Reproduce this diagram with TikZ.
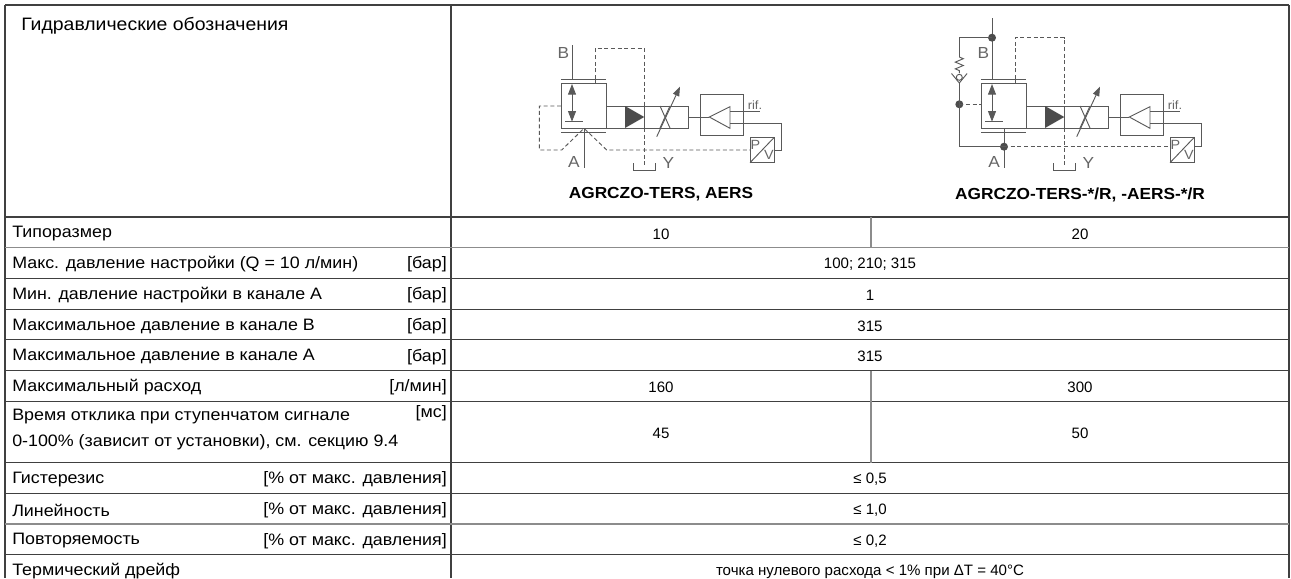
\documentclass[tikz,border=0pt]{standalone}
\usepackage{fontspec}
\setmainfont[FakeStretch=1.08]{Liberation Sans}
\newfontfamily\valfont{Liberation Sans}
\usetikzlibrary{arrows.meta}

\begin{document}
\begin{tikzpicture}[x=0.75pt,y=-0.75pt,
    grid/.style={draw=black!75, line width=0.9pt},
    lightgrid/.style={draw=black!45, line width=0.9pt},
    hyd/.style={draw=black!65, line width=0.7pt},
    pilot/.style={hyd, dash pattern=on 3pt off 2pt},
    lbl/.style={font=\fontsize{12.4}{14}\selectfont, inner sep=0pt, yshift=-1.1pt},
    val/.style={font=\valfont\fontsize{11.3}{13}\selectfont, inner sep=0pt, yshift=-1.1pt},
    port/.style={font=\fontsize{12}{12}\selectfont, text=black!60, inner sep=0pt},
    dot/.style={circle, fill=black!70, inner sep=0pt, minimum size=6pt}]
    \useasboundingbox (0,0) rectangle (1291,578);

    % Table grid
    \draw[grid, line width=1.6pt] (5,5) -- (1289,5);
    \draw[grid] (5,5) -- (5,578);
    \draw[grid] (451,5) -- (451,578);
    \draw[grid] (1289,5) -- (1289,578);
    \foreach \y in {217,278.4,309.1,339.8,370.5,401.2,462.6,493.3,554.7}
        \draw[grid] (5,\y) -- (1289,\y);
    \foreach \y in {247.7,524}
        \draw[lightgrid] (5,\y) -- (1289,\y);
    \draw[lightgrid] (871,217) -- (871,247.7);
    \draw[lightgrid] (871,370.5) -- (871,462.6);

    % Header
    \node[lbl, font=\fontsize{13.5}{15}\selectfont, anchor=west] (title) at (21,24) {Гидравлические обозначения};
    \node[lbl, font=\fontsize{12}{14}\selectfont\bfseries] (code1) at (661,193) {AGRCZO-TERS, AERS};
    \node[lbl, font=\fontsize{12}{14}\selectfont\bfseries] (code2) at (1080,193) {AGRCZO-TERS-*/R, -AERS-*/R};

    % Hydraulic symbols, common parts
    \foreach \dx/\py/\ty in {0/150/48.3, 420/146.7/37.7} {
      \begin{scope}[shift={(\dx,0)}]
        % main stage
        \draw[hyd] (561,83) rectangle (606,128);
        \draw[hyd] (561,79) -- (606,79);
        \draw[hyd] (561,132) -- (606,132);
        \draw[hyd] (595,79) -- (595,83);
        \draw[hyd, {Triangle[length=8pt,width=6pt]}-{Triangle[length=8pt,width=6pt]}] (572,84) -- (572,121.7);
        \draw[hyd] (565,121.7) -- (583,121.7);
        \draw[hyd] (584,128) -- (584,168);
        % drain Y
        \draw[pilot] (595,79) -- (595,\ty) -- (644.3,\ty) -- (644.3,106);
        \draw[pilot] (644.3,128) -- (644.3,166.7);
        \draw[hyd] (633.3,163.3) -- (633.3,170) -- (655,170) -- (655,163.3);
        % solenoid
        \draw[hyd] (606,106) rectangle (688,128);
        \draw[hyd] (644.3,106) -- (644.3,128);
        \fill[black!70] (625,106) -- (644.3,117) -- (625,128) -- cycle;
        \draw[hyd] (660,106) -- (670,128) (670,106) -- (660,128);
        \draw[hyd, -{Triangle[length=7pt,width=5pt]}] (656.7,136.7) -- (680,86.7);
        % amplifier
        \draw[hyd] (700,94.3) rectangle (743.3,135);
        \draw[hyd] (688,117) -- (709.3,117);
        \draw[hyd] (730,106.7) -- (709.3,117) -- (730,128.3) -- cycle;
        \draw[hyd] (730,111.7) -- (760,111.7);
        \draw[hyd] (730,123.3) -- (781.7,123.3) -- (781.7,\py) -- (774.3,\py);
        \node[port, font=\fontsize{9}{10}\selectfont, anchor=south west] (rif\dx) at (747.5,110) {rif.};
        % transducer P/V
        \draw[hyd] (750,137.3) rectangle (774.3,162.7);
        \draw[hyd] (750,162.7) -- (774.3,137.3);
        \node[port, font=\fontsize{10}{10}\selectfont] (p\dx) at (755.5,144.5) {P};
        \node[port, font=\fontsize{10}{10}\selectfont] (v\dx) at (769,155) {V};
        % ports
        \node[port] (pb\dx) at (563.3,53.3) {B};
        \node[port] (pa\dx) at (574,161.7) {A};
        \node[port] (py\dx) at (668.3,163.3) {Y};
      \end{scope}
    }

    % Symbol 1: pilot line
    \draw[hyd] (572,45) -- (572,79);
    \draw[pilot] (561,106) -- (539.3,106) -- (539.3,150) -- (561.7,150) -- (584,128.3) -- (606.7,150) -- (750,150);

    % Symbol 2: check valve by-pass
    \draw[hyd] (992,18) -- (992,79);
    \node[dot] (b2) at (992,37.7) {};
    \node[dot] (m2) at (959.3,104.3) {};
    \node[dot] (a2) at (1004,146.7) {};
    \coordinate (s2) at (959.3,57);
    \coordinate (k2) at (959.3,83);
    \draw[hyd] (b2.center) -| (s2);
    \draw[hyd] (s2) -- ++(4,1.7) -- ++(-8,3.4) -- ++(8,3.4) -- ++(-8,3.4) -- ++(4,1.7) -- ++(0,2.4);
    \draw[hyd] (959.3,77.3) circle (3);
    \draw[hyd] (951.5,73.5) -- (k2) -- (967.1,73.5);
    \draw[hyd] (k2) -- (m2.center) |- (a2.center);
    \draw[pilot] (m2.center) -- (981,104.3);
    \draw[pilot] (a2.center) -- (1170,146.7);

    % Labels
    \node[lbl, anchor=west] (size) at (12,232.4) {Типоразмер};
    \node[lbl, anchor=west] (pmax) at (12,263.1) {Макс. давление настройки (Q = 10 л/мин)};
    \node[lbl, anchor=west] (pmin) at (12,293.8) {Мин. давление настройки в канале A};
    \node[lbl, anchor=west] (pb) at (12,324.5) {Максимальное давление в канале B};
    \node[lbl, anchor=west] (pa) at (12,355.2) {Максимальное давление в канале A};
    \node[lbl, anchor=west] (flow) at (12,385.9) {Максимальный расход};
    \node[lbl, anchor=west] (resp) at (12,415) {Время отклика при ступенчатом сигнале};
    \node[lbl, anchor=west] (resp2) at (12,441) {0-100\% (зависит от установки), см. секцию 9.4};
    \node[lbl, anchor=west] (hyst) at (12,478) {Гистерезис};
    \node[lbl, anchor=west] (lin) at (12,508.7) {Линейность};
    \node[lbl, anchor=west] (rep) at (12,539.4) {Повторяемость};
    \node[lbl, anchor=west] (drift) at (12,570.1) {Термический дрейф};

    % Units
    \node[lbl, anchor=east] (u1) at (447,263.1) {[бар]};
    \node[lbl, anchor=east] (u2) at (447,293.8) {[бар]};
    \node[lbl, anchor=east] (u3) at (447,324.5) {[бар]};
    \node[lbl, anchor=east] (u4) at (447,355.2) {[бар]};
    \node[lbl, anchor=east] (u5) at (447,385.9) {[л/мин]};
    \node[lbl, anchor=east] (u6) at (447,412) {[мс]};
    \node[lbl, anchor=east] (u7) at (447,478) {[\% от макс. давления]};
    \node[lbl, anchor=east] (u8) at (447,508.7) {[\% от макс. давления]};
    \node[lbl, anchor=east] (u9) at (447,539.4) {[\% от макс. давления]};

    % Values
    \node[val] (v10) at (661,232.4) {10};
    \node[val] (v20) at (1080,232.4) {20};
    \node[val] (vp) at (870,263.1) {100; 210; 315};
    \node[val] (vmin) at (870,293.8) {1};
    \node[val] (vb) at (870,324.5) {315};
    \node[val] (va) at (870,355.2) {315};
    \node[val] (vq1) at (661,385.9) {160};
    \node[val] (vq2) at (1080,385.9) {300};
    \node[val] (vt1) at (661,431.9) {45};
    \node[val] (vt2) at (1080,431.9) {50};
    \node[val] (vh) at (870,478) {≤ 0,5};
    \node[val] (vl) at (870,508.7) {≤ 1,0};
    \node[val] (vr) at (870,539.4) {≤ 0,2};
    \node[val] (vd) at (870,570.1) {точка нулевого расхода < 1\% при ΔT = 40°C};
\end{tikzpicture}
\end{document}
